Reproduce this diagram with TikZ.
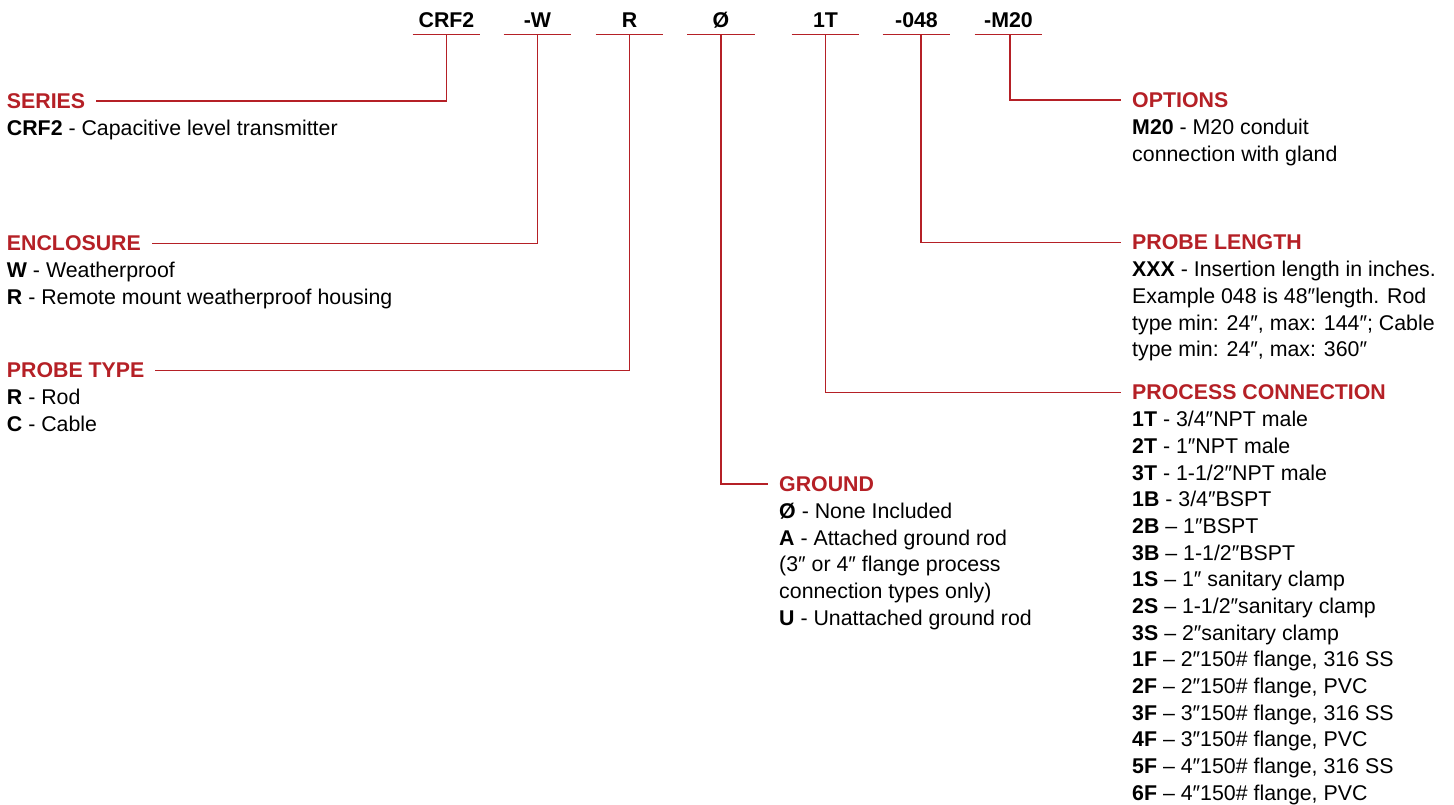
\documentclass[tikz,border=0pt]{standalone}
\usepackage{fontspec}
\setmainfont{Liberation Sans}
\usetikzlibrary{positioning}
\definecolor{codered}{RGB}{181,32,38}
\tikzset{
  lead/.style={draw=codered, line width=1.25pt, shorten >=3pt},
  code/.style={font=\fontsize{16}{20}\selectfont\bfseries, minimum width=50.25pt,
    text depth=0pt, inner ysep=5pt, anchor=base},
  head/.style={font=\fontsize{16}{20}\selectfont\bfseries, text=codered,
    inner xsep=5pt, inner ysep=0pt, anchor=base west},
  body/.style={font=\fontsize{16}{20}\selectfont, align=left,
    inner xsep=5pt, inner ysep=0pt}
}

\begin{document}
\begin{tikzpicture}[x=0.75pt, y=-0.75pt]
\useasboundingbox (0,0) rectangle (1454,805);
%% model code
  \node[code] (crf)   at (446.5,27.7) {CRF2};
  \node[code] (encl)  at (537.5,27.7) {-W};
  \node[code] (probe) at (629.5,27.7) {R};
  \node[code] (gnd)   at (721,27.7)   {Ø};
  \node[code] (conn)  at (825.5,27.7) {1T};
  \node[code] (len)   at (916.5,27.7) {-048};
  \node[code] (opt)   at (1008.5,27.7) {-M20};
  \foreach \c in {crf,encl,probe,gnd,conn,len,opt}
    \draw[draw=codered, line width=1.25pt] (\c.south west) -- (\c.south east);
%% left column
  \node[head] (series) at (0,108.3) {SERIES};
  \node[body, below=6pt of series.base west, anchor=north west] (seriesbody)
    {\strut\textbf{CRF2} - Capacitive level transmitter};
  \node[head] (enclosure) at (0,251) {ENCLOSURE};
  \node[body, below=6pt of enclosure.base west, anchor=north west] (enclosurebody)
    {\strut\textbf{W} - Weatherproof\\
     \textbf{R} - Remote mount weatherproof housing};
  \node[head] (probetype) at (0,377.7) {PROBE TYPE};
  \node[body, below=6pt of probetype.base west, anchor=north west] (probetypebody)
    {\strut\textbf{R} - Rod\\
     \textbf{C} - Cable};
%% middle
  \node[head] (ground) at (772.3,491.5) {GROUND};
  \node[body, below=6pt of ground.base west, anchor=north west] (groundbody)
    {\strut\textbf{Ø} - None Included\\
     \textbf{A} - Attached ground rod\\
     (3″ or 4″ flange process\\
     connection types only)\\
     \textbf{U} - Unattached ground rod};
%% right column
  \node[head] (options) at (1125.3,107.5) {OPTIONS};
  \node[body, below=6pt of options.base west, anchor=north west] (optionsbody)
    {\strut\textbf{M20} - M20 conduit\\
     connection with gland};
  \node[head] (length) at (1125.3,250) {PROBE LENGTH};
  \node[body, below=6pt of length.base west, anchor=north west] (lengthbody)
    {\strut\textbf{XXX} - Insertion length in inches.\\
     Example 048 is 48″length. Rod\\
     type min: 24″, max: 144″; Cable\\
     type min: 24″, max: 360″};
  \node[head] (connection) at (1125.3,400) {PROCESS CONNECTION};
  \node[body, below=6pt of connection.base west, anchor=north west] (connectionbody)
    {\strut\textbf{1T} - 3/4″NPT male\\
     \textbf{2T} - 1″NPT male\\
     \textbf{3T} - 1-1/2″NPT male\\
     \textbf{1B} - 3/4″BSPT\\
     \textbf{2B} -- 1″BSPT\\
     \textbf{3B} -- 1-1/2″BSPT\\
     \textbf{1S} -- 1″ sanitary clamp\\
     \textbf{2S} -- 1-1/2″sanitary clamp\\
     \textbf{3S} -- 2″sanitary clamp\\
     \textbf{1F} -- 2″150\# flange, 316 SS\\
     \textbf{2F} -- 2″150\# flange, PVC\\
     \textbf{3F} -- 3″150\# flange, 316 SS\\
     \textbf{4F} -- 3″150\# flange, PVC\\
     \textbf{5F} -- 4″150\# flange, 316 SS\\
     \textbf{6F} -- 4″150\# flange, PVC};
%% leads
  \draw[lead] (crf.south) |- (series.east);
  \draw[lead] (encl.south) |- (enclosure.east);
  \draw[lead] (probe.south) |- (probetype.east);
  \draw[lead] (gnd.south) |- (ground.west);
  \draw[lead] (conn.south) |- (connection.west);
  \draw[lead] ([xshift=3.3pt]len.south) |- (length.west);
  \draw[lead] ([xshift=1.2pt]opt.south) |- (options.west);
\end{tikzpicture}
\end{document}
